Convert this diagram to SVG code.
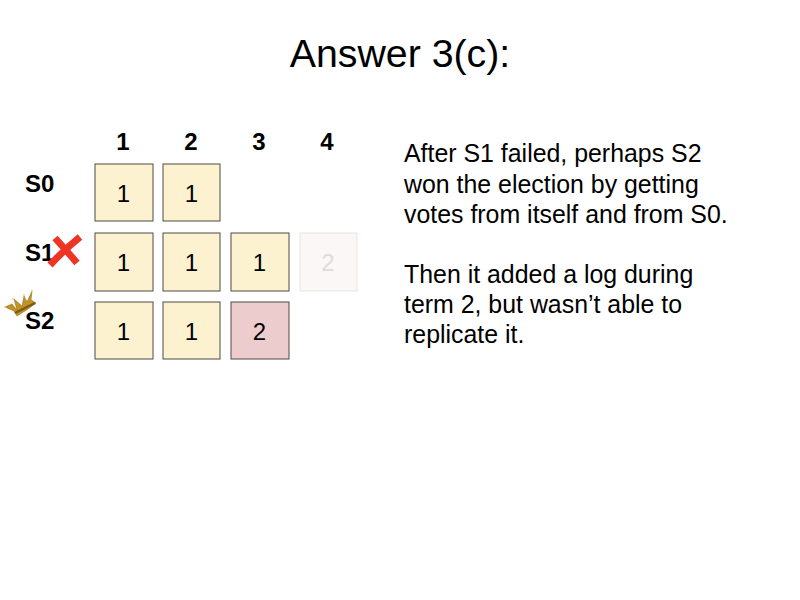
<svg xmlns="http://www.w3.org/2000/svg" width="800" height="600" viewBox="0 0 800 600">
<style>
text{font-family:"Liberation Sans",Arial,sans-serif;fill:#000}
.t{font-size:39.3px;text-anchor:middle}
.h{font-size:24px;font-weight:bold;text-anchor:middle}
.l{font-size:24px;font-weight:bold}
.b{font-size:24.9px}
.n{font-size:24px;text-anchor:middle}
.y{fill:#fdf2d0;stroke:#4d4a42;stroke-width:1}
.r{fill:#eccccc;stroke:#4d4a42;stroke-width:1}
.f{fill:#fbf7f6;stroke:#e6e6e6;stroke-width:1}
</style>
<rect width="800" height="600" fill="#fff"/>
<text class="t" x="400" y="67">Answer 3(c):</text>
<g id="headers">
<text class="h" x="123" y="150">1</text><text class="h" x="191" y="150">2</text><text class="h" x="259" y="150">3</text><text class="h" x="327" y="150">4</text>
</g>
<g id="S0"><text class="l" x="25" y="192">S0</text>
<rect class="y" x="95" y="164" width="58" height="57"/><text class="n" x="123.500" y="202">1</text>
<rect class="y" x="163" y="164" width="57" height="57"/><text class="n" x="191.500" y="202">1</text></g>
<g id="S1"><text class="l" x="25" y="261">S1</text>
<rect class="y" x="95" y="233" width="58" height="58"/><text class="n" x="123.500" y="271">1</text>
<rect class="y" x="163" y="233" width="57" height="58"/><text class="n" x="191.500" y="271">1</text>
<rect class="y" x="231" y="233" width="58" height="58"/><text class="n" x="259.500" y="271">1</text>
<rect class="f" x="300" y="233" width="57" height="58"/><text class="n" x="328" y="271" style="fill:#dedcdb">2</text>
<path d="M55 238Q66 250 77 263M80 237Q64 250 50 265" fill="none" stroke="#ee3524" stroke-width="7"/></g>
<g id="S2"><text class="l" x="25" y="329">S2</text>
<rect class="y" x="95" y="302" width="58" height="57"/><text class="n" x="123.500" y="340">1</text>
<rect class="y" x="163" y="302" width="57" height="57"/><text class="n" x="191.500" y="340">1</text>
<rect class="r" x="231" y="302" width="58" height="57"/><text class="n" x="259.500" y="340">2</text>
<path d="M5 307L12 304L17 310L14 299L22 306L24 296L27 302L32 291L31 300L36 303L28 309L17 316L14 311Z" fill="#c39227" stroke="#8a6414" stroke-width="0.5"/>
<path d="M15 313L35 303" fill="none" stroke="#7a5a14" stroke-width="2.500"/>
<circle cx="5" cy="307" r="1" fill="#e8cf8a"/><circle cx="13" cy="299" r="1" fill="#e8cf8a"/><circle cx="24" cy="295" r="1" fill="#e8cf8a"/><circle cx="32" cy="291" r="1" fill="#e8cf8a"/></g>
<g id="description">
<text class="b" x="404" y="162">After S1 failed, perhaps S2</text>
<text class="b" x="404" y="193">won the election by getting</text>
<text class="b" x="404" y="223">votes from itself and from S0.</text>
<text class="b" x="404" y="283">Then it added a log during</text>
<text class="b" x="404" y="313">term 2, but wasn’t able to</text>
<text class="b" x="404" y="343">replicate it.</text>
</g>
<g id="connectors"/>
</svg>
